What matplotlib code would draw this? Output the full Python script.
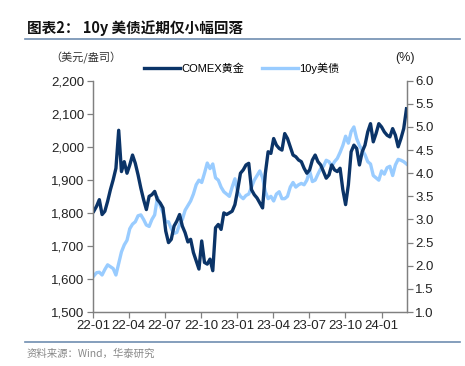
import pandas as pd
import matplotlib.pyplot as plt
import matplotlib.dates as mdates
from matplotlib.ticker import FuncFormatter

plt.rcParams['font.family'] = ['Liberation Sans', 'Noto Sans CJK SC', 'DejaVu Sans']

# weekly readings, first week of Jan 2022 to first week of Mar 2024
dates = pd.date_range('2022-01-03', '2024-03-04', freq='W-MON')

gold = [
    # 2022 Q1
    1805, 1820, 1840, 1795, 1805, 1835, 1870, 1900, 1935, 2050, 1925, 1955, 1920,
    # 2022 Q2
    1945, 1975, 1950, 1915, 1875, 1840, 1810, 1850, 1855, 1865, 1840, 1830, 1815,
    # 2022 Q3
    1745, 1710, 1720, 1760, 1775, 1795, 1760, 1740, 1712, 1720, 1680, 1655, 1630,
    # 2022 Q4
    1715, 1650, 1645, 1660, 1625, 1755, 1765, 1750, 1800, 1795, 1800, 1805, 1825,
    # 2023 Q1
    1870, 1920, 1930, 1945, 1950, 1870, 1855, 1845, 1830, 1815, 1920, 1985, 1980,
    # 2023 Q2
    2025, 2005, 1995, 1990, 2040, 2025, 2000, 1975, 1970, 1960, 1955, 1935, 1920,
    # 2023 Q3
    1930, 1960, 1975, 1955, 1945, 1925, 1905, 1915, 1945, 1930, 1925, 1935, 1870,
    # 2023 Q4
    1825, 1885, 1985, 2005, 1995, 1945, 1985, 2005, 2045, 2070, 2015, 2040, 2070,
    # 2024
    2060, 2045, 2035, 2030, 2055, 2035, 2000, 2025, 2055, 2115,
]

ust10y = [
    # 2022 Q1
    1.78, 1.85, 1.86, 1.80, 1.92, 2.02, 1.98, 1.94, 1.80, 2.05, 2.30, 2.45, 2.55,
    # 2022 Q2
    2.80, 2.90, 2.95, 3.08, 3.10, 3.00, 2.88, 2.85, 3.00, 3.10, 3.48, 3.30, 3.15,
    # 2022 Q3
    2.95, 2.95, 2.80, 2.70, 2.72, 2.90, 3.00, 3.20, 3.30, 3.40, 3.55, 3.75, 3.85,
    # 2022 Q4
    3.80, 4.00, 4.22, 4.10, 4.20, 3.90, 3.85, 3.70, 3.60, 3.55, 3.50, 3.70, 3.88,
    # 2023 Q1
    3.60, 3.50, 3.45, 3.52, 3.55, 3.70, 3.85, 3.95, 4.05, 3.90, 3.60, 3.45, 3.50,
    # 2023 Q2
    3.40, 3.55, 3.60, 3.45, 3.45, 3.50, 3.70, 3.80, 3.70, 3.75, 3.78, 3.75, 3.85,
    # 2023 Q3
    4.05, 3.82, 3.85, 3.98, 4.10, 4.15, 4.28, 4.25, 4.15, 4.25, 4.32, 4.45, 4.60,
    # 2023 Q4
    4.80, 4.65, 4.90, 5.00, 4.75, 4.60, 4.50, 4.40, 4.25, 4.20, 3.95, 3.90, 3.85,
    # 2024
    4.05, 3.98, 4.12, 4.15, 3.95, 4.18, 4.30, 4.28, 4.25, 4.20,
]

tick_dates = pd.date_range('2022-01-01', '2024-01-01', freq='QS')

gold_color = '#0B3468'
ust_color = '#99CCFF'
rule_color = '#6F8DB0'
spine_color = '#808080'

fig = plt.figure(figsize=(4.65, 3.66), dpi=100)
ax = fig.add_axes([0.2, 0.1475, 0.675, 0.632])
ax2 = ax.twinx()

ax2.plot(dates, ust10y, color=ust_color, lw=2.4, solid_joinstyle='round')
ax.plot(dates, gold, color=gold_color, lw=2.4, solid_joinstyle='round')
ax.set_zorder(ax2.get_zorder() + 1)
ax.patch.set_visible(False)

ax.set_xlim(pd.Timestamp('2022-01-01'), pd.Timestamp('2024-03-05'))
ax.set_ylim(1500, 2200)
ax.set_yticks(range(1500, 2201, 100))
ax.yaxis.set_major_formatter(FuncFormatter(lambda v, p: f'{int(v):,}'))
ax2.set_ylim(1.0, 6.0)
ax2.set_yticks([1.0 + 0.5 * k for k in range(11)])
ax2.yaxis.set_major_formatter(FuncFormatter(lambda v, p: f'{v:.1f}'))

ax.set_xticks(tick_dates)
ax.xaxis.set_major_formatter(mdates.DateFormatter('%y-%m'))

for a in (ax, ax2):
    a.spines['top'].set_visible(False)
    for s in ('left', 'right', 'bottom'):
        a.spines[s].set_color(spine_color)
        a.spines[s].set_linewidth(0.9)
    a.tick_params(length=4, width=0.9, color=spine_color, labelsize=9.5,
                  labelcolor='#222222', pad=2)

# header / footer
fig.text(0.058, 0.923, '图表2： 10y 美债近期仅小幅回落', fontsize=10.5, fontweight='bold',
         family=['Noto Sans CJK SC', 'DejaVu Sans'], color='#111111', va='center')
fig.add_artist(plt.Line2D([0.054, 0.99], [0.893, 0.893], color=rule_color, lw=1.2))
fig.text(0.108, 0.842, '（美元/盎司）', fontsize=8, family=['Noto Sans CJK SC'],
         color='#333333', va='center')
fig.text(0.872, 0.842, '(%)', fontsize=9, color='#222222', va='center', ha='center')

h1 = plt.Line2D([], [], color=gold_color, lw=2.4)
h2 = plt.Line2D([], [], color=ust_color, lw=2.4)
fig.legend([h1, h2], ['COMEX黄金', '10y美债'], loc='center', bbox_to_anchor=(0.52, 0.814),
           ncol=2, frameon=False, handlelength=3.2, handletextpad=0.15, columnspacing=1.6,
           prop={'family': ['Liberation Sans', 'Noto Sans CJK SC'], 'size': 8})

fig.add_artist(plt.Line2D([0.054, 0.99], [0.066, 0.066], color=rule_color, lw=1.2))
fig.text(0.058, 0.034, '资料来源：Wind，华泰研究', fontsize=7.5,
         family=['Noto Sans CJK SC', 'DejaVu Sans'], color='#888888', va='center')

fig.savefig('out.png', dpi=100)
